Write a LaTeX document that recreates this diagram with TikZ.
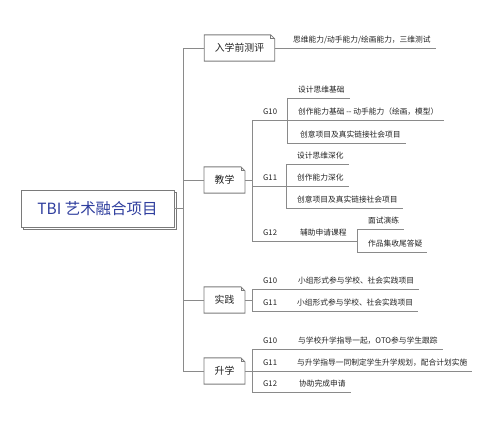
\documentclass[tikz,border=0pt]{standalone}
\usepackage{fontspec}
\setmainfont{Noto Sans CJK SC}
\usepackage{xcolor}
\usepackage{tikz}
\usetikzlibrary{calc,shadows}

\definecolor{linegray}{HTML}{8A8A8A}
\definecolor{boxgray}{HTML}{7A7A7A}
\definecolor{rootblue}{HTML}{2F3E9E}
\definecolor{txtgray}{HTML}{222222}

% outline of a box with a folded top-right corner
\newcommand{\notebox}[1]{%
  \draw[boxline] (#1.south west) -- (#1.north west) -- ([xshift=-2mm]#1.north east)
    -- ([yshift=-2mm]#1.north east) -- (#1.south east) -- cycle;
  \draw[boxline] ([xshift=-2mm]#1.north east) |- ([yshift=-2mm]#1.north east);}

\begin{document}
\begin{tikzpicture}[
    x=0.5mm, y=-0.5mm,
    every node/.style={text=txtgray},
    rootbox/.style ={rectangle,draw=boxgray,fill=white,line width=0.4mm,
                    minimum width=76.5mm,minimum height=18.5mm,
                    text=rootblue,font=\fontsize{22}{24}\selectfont,
                    copy shadow={opacity=1,fill=white,draw=boxgray,
                    shadow xshift=1.2mm,shadow yshift=-1.2mm}},
    catbox/.style  ={rectangle,fill=white,inner xsep=5.25mm,
                    minimum height=13mm,font=\fontsize{14}{16}\selectfont},
    boxline/.style ={boxgray,line width=0.4mm,line join=miter},
    leaf/.style    ={anchor=south west,inner xsep=2.5mm,inner ysep=2.75mm,
                    text depth=0pt,font=\fontsize{11}{13}\selectfont},
    branch/.style  ={-,linegray,line width=0.45mm},
  ]
  \useasboundingbox (0,0) rectangle (500,426);

  % --- root and the four categories ---
  \node[rootbox] (root) at (97.5,208.5) {TBI 艺术融合项目};
  \node[catbox]  (c1)   at (239.5,48)   {入学前测评};
  \node[catbox]  (c2)   at (224.5,180)  {教学};
  \node[catbox]  (c3)   at (224.5,300)  {实践};
  \node[catbox]  (c4)   at (224.5,371)  {升学};
  \notebox{c1} \notebox{c2} \notebox{c3} \notebox{c4}

  % trunk
  \coordinate (tk) at (183,0);
  \draw[branch] (root.east) -- (root.east -| tk);
  \draw[branch] (c1.west) -- (c1.west -| tk) -- (c4.west -| tk) -- (c4.west);
  \draw[branch] (c2.west -| tk) -- (c2.west);
  \draw[branch] (c3.west -| tk) -- (c3.west);

  % spines to the right of the categories
  \coordinate (sp)  at (252,0);
  \coordinate (s10) at (287,0);
  \coordinate (s11) at (286,0);
  \coordinate (s12) at (357,0);

  % --- 入学前测评 ---
  \node[leaf] (a1) at (288,48) {思维能力/动手能力/绘画能力，三维测试};
  \draw[branch] (c1.east) -- (a1.south east);

  % --- 教学 ---
  \node[leaf] (jg10) at (258,120) {G10};
  \node[leaf] (jg11) at (258,186) {G11};
  \node[leaf] (jg12) at (258,241) {G12};
  \node[leaf] (j101) at (293,98)  {设计思维基础};
  \node[leaf] (j102) at (293,120) {创作能力基础 -\kern0pt- 动手能力（绘画，模型）};
  \node[leaf] (j103) at (295,143) {创意项目及真实链接社会项目};
  \node[leaf] (j111) at (292,164) {设计思维深化};
  \node[leaf] (j112) at (292,186) {创作能力深化};
  \node[leaf] (j113) at (292,208) {创意项目及真实链接社会项目};
  \node[leaf] (j12)  at (295,241) {辅助申请课程};
  \node[leaf] (j121) at (363,229) {面试演练};
  \node[leaf] (j122) at (363,252) {作品集收尾答疑};

  \draw[branch] (c2.east) -- (c2.east -| sp);
  \draw[branch] (jg10.south -| sp) -- (jg12.south -| sp);
  \draw[branch] (jg10.south -| sp) -- (jg10.south -| s10);
  \draw[branch] (jg11.south -| sp) -- (jg11.south -| s11);
  \draw[branch] (jg12.south -| sp) -- (jg12.south -| s12);
  \draw[branch] (j101.south -| s10) -- (j103.south -| s10);
  \draw[branch] (j111.south -| s11) -- (j113.south -| s11);
  \draw[branch] (j121.south -| s12) -- (j122.south -| s12);
  \foreach \n in {j101,j102,j103}
    \draw[branch] (\n.south -| s10) -- (\n.south east);
  \foreach \n in {j111,j112,j113}
    \draw[branch] (\n.south -| s11) -- (\n.south east);
  \foreach \n in {j121,j122}
    \draw[branch] (\n.south -| s12) -- (\n.south east);

  % --- 实践 ---
  \node[leaf] (pg10) at (258,289) {G10};
  \node[leaf] (pg11) at (258,311) {G11};
  \node[leaf] (p10)  at (293,289) {小组形式参与学校、社会实践项目};
  \node[leaf] (p11)  at (292,311) {小组形式参与学校、社会实践项目};
  \draw[branch] (c3.east) -- (c3.east -| sp);
  \draw[branch] (pg10.south -| sp) -- (pg11.south -| sp);
  \draw[branch] (pg10.south -| sp) -- (p10.south east);
  \draw[branch] (pg11.south -| sp) -- (p11.south east);

  % --- 升学 ---
  \node[leaf] (sg10) at (258,349) {G10};
  \node[leaf] (sg11) at (258,371) {G11};
  \node[leaf] (sg12) at (258,392) {G12};
  \node[leaf] (u10)  at (293,349) {与学校升学指导一起，OTO参与学生跟踪};
  \node[leaf] (u11)  at (292,371) {与升学指导一同制定学生升学规划，配合计划实施};
  \node[leaf] (u12)  at (294,392) {协助完成申请};
  \draw[branch] (c4.east) -- (c4.east -| sp);
  \draw[branch] (sg10.south -| sp) -- (sg12.south -| sp);
  \draw[branch] (sg10.south -| sp) -- (u10.south east);
  \draw[branch] (sg11.south -| sp) -- (u11.south east);
  \draw[branch] (sg12.south -| sp) -- (u12.south east);
\end{tikzpicture}
\end{document}
